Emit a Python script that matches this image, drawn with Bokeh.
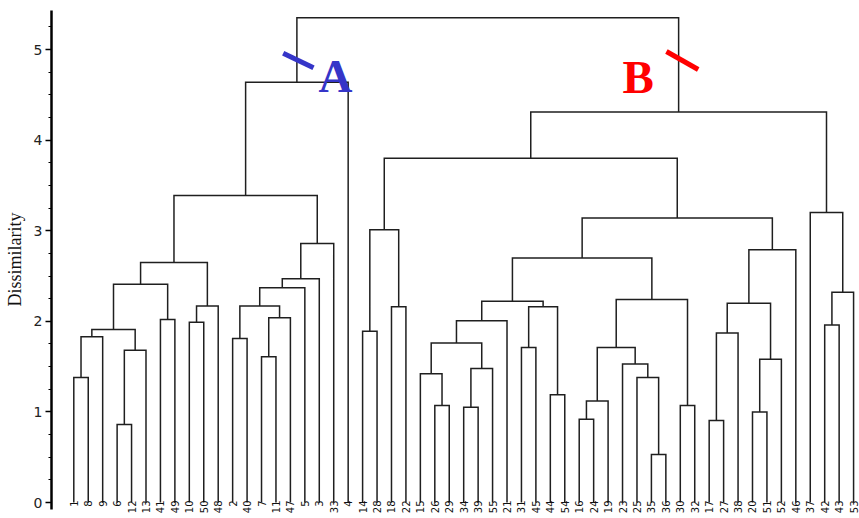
import math
from bokeh.plotting import figure
from bokeh.models import Range1d, SingleIntervalTicker, Label
from bokeh.core.properties import value
from bokeh.embed import file_html
from bokeh.resources import INLINE

# Leaf order along the x axis (as printed under the tree)
leaves = ["1", "8", "9", "6", "12", "13", "41", "49", "10", "50",
          "48", "2", "40", "7", "11", "47", "5", "3", "33", "4",
          "14", "28", "18", "22", "15", "26", "29", "34", "39", "55",
          "21", "31", "45", "44", "54", "16", "24", "19", "23", "25",
          "35", "36", "30", "32", "17", "27", "38", "20", "51", "52",
          "46", "37", "42", "43", "53"]

# Merge steps: (cluster name, left child, right child, dissimilarity)
merge_names = ["a1", "a2", "a3", "a4", "a5", "a6", "a7", "a8", "a9", "a10",
               "a11", "a12", "a13", "a14", "a15", "a16", "a17", "a18", "A",
               "b1", "b2", "b3", "b4", "b5", "b6", "b7", "b8", "b9", "b10",
               "b11", "b12", "b13", "b14", "b15", "b16", "b17", "b18", "b19", "b20",
               "b21", "b22", "b23", "b24", "b25", "b26", "b27", "b28", "b29", "b30",
               "b31", "b32", "b33", "B", "root"]
merge_left = ["1", "a1", "6", "a3", "a2", "41", "a5", "10", "a8", "a7",
              "2", "7", "a12", "a11", "a14", "a15", "a16", "a10", "a18",
              "14", "18", "b1", "26", "15", "34", "b6", "b5", "b8", "31",
              "44", "b10", "b9", "16", "b14", "35", "25", "23", "b15", "30",
              "b19", "b13", "17", "b23", "20", "b25", "b24", "b27", "b22", "b3",
              "42", "b31", "37", "b30", "A"]
merge_right = ["8", "9", "12", "13", "a4", "49", "a6", "50", "48", "a9",
               "40", "11", "47", "a13", "5", "3", "33", "a17", "4",
               "28", "22", "b2", "29", "b4", "39", "55", "b7", "21", "45",
               "54", "b11", "b12", "24", "19", "36", "b16", "b17", "b18", "32",
               "b20", "b21", "27", "38", "51", "52", "b26", "46", "b28", "b29",
               "43", "53", "b32", "b33", "B"]
merge_height = [1.38, 1.83, 0.86, 1.68, 1.91, 2.02, 2.41, 1.99, 2.17, 2.65,
                1.81, 1.61, 2.04, 2.17, 2.37, 2.47, 2.86, 3.39, 4.64,
                1.89, 2.16, 3.01, 1.07, 1.42, 1.05, 1.48, 1.76, 2.005, 1.71,
                1.19, 2.16, 2.22, 0.92, 1.12, 0.53, 1.38, 1.53, 1.71, 1.07,
                2.24, 2.70, 0.905, 1.87, 1.00, 1.58, 2.20, 2.79, 3.14, 3.80,
                1.96, 2.32, 3.20, 4.31, 5.35]

# Group annotations (text, colour, anchor, stroke)
group_text = ["A", "B"]
group_color = ["#3535c8", "#ff0000"]
group_text_x = [16.94, 37.99]
group_text_y = [4.713, 4.702]
group_mark_x = [[14.50, 16.60], [41.04, 43.24]]
group_mark_y = [[4.959, 4.798], [4.978, 4.779]]

# ---- build the dendrogram segments from the merge table ----
pos = {lab: i for i, lab in enumerate(leaves)}
hgt = {lab: 0.0 for lab in leaves}
xs, ys = [], []
for name, l, r, h in zip(merge_names, merge_left, merge_right, merge_height):
    xl, xr = pos[l], pos[r]
    hl, hr = hgt[l], hgt[r]
    xs.append([xl, xl, xr, xr])
    ys.append([hl, h, h, hr])
    pos[name] = (xl + xr) / 2.0
    hgt[name] = h

p = figure(width=859, height=518, output_backend="svg", toolbar_location=None,
           x_axis_type=None,
           x_range=Range1d(-1.544, 54.41), y_range=Range1d(-0.1766, 5.541),
           min_border_left=51, min_border_right=0, min_border_top=0, min_border_bottom=0)
p.outline_line_color = None
p.grid.visible = False
p.background_fill_color = "white"
p.border_fill_color = "white"

p.multi_line(xs, ys, line_color="#1f1f1f", line_width=1.5, line_join="miter")

p.text(x=list(range(len(leaves))), y=[0.022] * len(leaves), text=leaves,
       angle=math.pi / 2, text_align="right", text_baseline="middle",
       text_font=value("DejaVu Sans"), text_font_size="10px", text_color="#111111")

yax = p.yaxis[0]
yax.ticker = SingleIntervalTicker(interval=1, num_minor_ticks=4)
yax.bounds = (-0.075, 5.43)
yax.axis_line_width = 2.5
yax.axis_line_color = "black"
yax.major_tick_line_color = "black"
yax.major_tick_line_width = 1.5
yax.major_tick_out = 6
yax.major_tick_in = 0
yax.minor_tick_line_color = "black"
yax.minor_tick_line_width = 1
yax.minor_tick_out = 3
yax.minor_tick_in = 0
yax.major_label_text_font = "DejaVu Sans"
yax.major_label_text_font_size = "14px"
yax.major_label_text_color = "#222222"
yax.major_label_standoff = 3
yax.axis_label = "Dissimilarity"
yax.axis_label_text_font = "Liberation Serif"
yax.axis_label_text_font_size = "18px"
yax.axis_label_text_font_style = "normal"
yax.axis_label_text_color = "#111111"
yax.axis_label_standoff = 6

for t, c, tx, ty, mx, my in zip(group_text, group_color, group_text_x, group_text_y,
                                group_mark_x, group_mark_y):
    p.line(mx, my, line_color=c, line_width=5, line_cap="butt")
    p.add_layout(Label(x=tx, y=ty, text=t, text_color=c, text_font="Liberation Serif",
                       text_font_style="bold", text_font_size="47px",
                       text_baseline="alphabetic", text_align="left"))

open("out.html", "w").write(file_html(p, INLINE))
